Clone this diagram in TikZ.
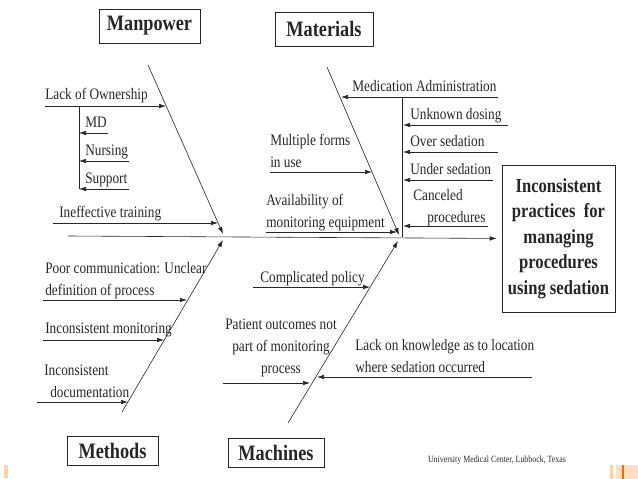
\documentclass[tikz,border=0pt]{standalone}
\usepackage{fontspec}
\setmainfont[FakeStretch=0.83]{Liberation Serif}
\usetikzlibrary{positioning,arrows.meta}

\tikzset{
  catbox/.style={draw, inner sep=0pt, font=\fontsize{22}{26}\selectfont\bfseries},
  cause/.style={inner sep=0pt, anchor=base west, align=left, font=\fontsize{16}{22}\selectfont},
}

\begin{document}
\begin{tikzpicture}[x=1pt,y=-1pt,>={Latex[length=7pt,width=4.5pt]},line width=0.6pt,color=black!85]
    \useasboundingbox (0,0) rectangle (638,479);

    % effect and spine
    \node (effect) [draw, inner sep=0pt, minimum width=113pt, minimum height=147pt, align=center,
      font=\fontsize{20}{25.5}\selectfont\bfseries] at (558.5,238.5)
      {Inconsistent\\practices\ \ for\\managing\\procedures\\using sedation};
    \coordinate (tail) at (68,236);
    \draw[->, shorten >=5pt] (tail) -- (effect.west);

    % category boxes
    \node (manpower) [catbox, minimum width=101pt, minimum height=34pt] at (149.5,26) {Manpower};
    \node (materials) [catbox, minimum width=98pt, minimum height=34pt] at (324,29) {Materials};
    \node (methods) [catbox, minimum width=91pt, minimum height=29pt] at (112.5,450.5) {Methods};
    \node (machines) [catbox, minimum width=96pt, minimum height=29pt] at (276,452.5) {Machines};

    % bones
    \coordinate (mp0) at (148,65);  \coordinate (mp1) at (223,234);
    \coordinate (mt0) at (327,67);  \coordinate (mt1) at (399,235);
    \coordinate (me0) at (122,412); \coordinate (me1) at (223,240);
    \coordinate (mc0) at (288,423); \coordinate (mc1) at (398,241);
    \draw[->] (mp0) -- (mp1);
    \draw[->] (mt0) -- (mt1);
    \draw[->] (me0) -- (me1);
    \draw[->] (mc0) -- (mc1);

    % manpower
    \node (own) [cause] at (45,99) {Lack of Ownership};
    \coordinate (own0) at (45,106); \coordinate (own1) at (166,106);
    \draw[->] (own0) -- (own1);
    \coordinate (sub0) at (79,106); \coordinate (sub1) at (79,189);
    \draw (sub0) -- (sub1);
    \foreach \n/\t/\y/\x in {md/MD/133/108, nurse/Nursing/161/129, supp/Support/189/129} {
      \node (\n) [cause] at (85,\y-6) {\t};
      \coordinate (\n0) at (\x,\y); \coordinate (\n1) at (79,\y);
      \draw[->] (\n0) -- (\n1);
    }
    \node (train) [cause] at (59,217) {Ineffective training};
    \coordinate (train0) at (53,223); \coordinate (train1) at (218,223);
    \draw[->] (train0) -- (train1);

    % methods
    \node (comm) [cause] at (45,295) {Poor communication: Unclear\\definition of process};
    \coordinate (comm0) at (43,300); \coordinate (comm1) at (187,300);
    \draw[->] (comm0) -- (comm1);
    \node (mon) [cause] at (45,333) {Inconsistent monitoring};
    \coordinate (mon0) at (43,340); \coordinate (mon1) at (164,340);
    \draw[->] (mon0) -- (mon1);
    \node (doc) [cause] at (44,397) {Inconsistent\\\hspace*{6pt}documentation};
    \coordinate (doc0) at (37,402); \coordinate (doc1) at (128,402);
    \draw[->] (doc0) -- (doc1);

    % materials
    \node (med) [cause] at (352,91) {Medication Administration};
    \coordinate (med0) at (498,97); \coordinate (med1) at (341,97);
    \draw[->] (med0) -- (med1);
    \coordinate (sub2) at (402,97); \coordinate (sub3) at (402,237);
    \draw (sub2) -- (sub3);
    \foreach \n/\t/\y/\x in {dose/Unknown dosing/125/508, over/Over sedation/152/498, under/Under sedation/180/493} {
      \node (\n) [cause] at (410,\y-6) {\t};
      \coordinate (\n0) at (\x,\y); \coordinate (\n1) at (403,\y);
      \draw[->] (\n0) -- (\n1);
    }
    \node (canc) [cause] at (413,222) {Canceled\\\hspace*{14pt}procedures};
    \coordinate (canc0) at (488,226); \coordinate (canc1) at (403,226);
    \draw[->] (canc0) -- (canc1);
    \node (forms) [cause] at (270,167) {Multiple forms\\in use};
    \coordinate (forms0) at (270,172); \coordinate (forms1) at (372,172);
    \draw[->] (forms0) -- (forms1);
    \node (avail) [cause] at (266,227) {Availability of\\monitoring equipment};
    \coordinate (avail0) at (266,232); \coordinate (avail1) at (397,232);
    \draw[->] (avail0) -- (avail1);

    % machines
    \node (pol) [cause] at (260,282) {Complicated policy};
    \coordinate (pol0) at (253,287); \coordinate (pol1) at (370,287);
    \draw[->] (pol0) -- (pol1);
    \node (out) [cause, anchor=base, align=center] at (281,373) {Patient outcomes not\\part of monitoring\\process};
    \coordinate (out0) at (223,383); \coordinate (out1) at (310,383);
    \draw[->] (out0) -- (out1);
    \node (loc) [cause] at (355,372) {Lack on knowledge as to location\\where sedation occurred};
    \coordinate (loc0) at (532,377); \coordinate (loc1) at (317,377);
    \draw[->] (loc0) -- (loc1);

    % footer
    \node (credit) [inner sep=0pt, font=\fontsize{9.5}{11}\selectfont] at (497,460) {University Medical Center, Lubbock, Texas};
    \fill[orange!35] (4,465) rectangle (8,478);
    \fill[orange!35] (610,465) rectangle (613,479);
    \fill[orange!25] (616,465) rectangle (638,479);
    \fill[orange!80!red] (622,465) rectangle (623.5,479);
\end{tikzpicture}
\end{document}
